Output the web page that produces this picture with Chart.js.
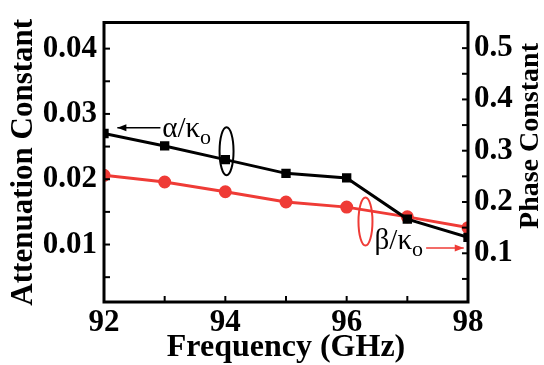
<!DOCTYPE html>
<html>
<head>
<meta charset="utf-8">
<script src="https://cdn.jsdelivr.net/npm/chart.js@4"></script>
<style>
  html, body { margin: 0; padding: 0; background: #fff; }
  #wrap { width: 544px; height: 365px; }
</style>
</head>
<body>
<div id="wrap"><canvas id="chart" width="544" height="365"></canvas></div>
<script>
// Data
const freq = [92, 93, 94, 95, 96, 97, 98];
const attenuation = [0.0270, 0.0251, 0.0230, 0.0209, 0.0202, 0.0139, 0.0111];
const phase = [0.252, 0.239, 0.220, 0.200, 0.190, 0.171, 0.150];

const xTicks = [92, 94, 96, 98];
const xMinor = [93, 95, 97];
const leftTicks = [0.01, 0.02, 0.03, 0.04];
const leftMinor = [0.005, 0.015, 0.025, 0.035];
const rightTicks = [0.1, 0.2, 0.3, 0.4, 0.5];
const rightMinor = [0.05, 0.15, 0.25, 0.35, 0.45];

const SERIF = '"Liberation Serif", "Times New Roman", serif';
const RED = '#ef3b36';

// frame, inward ticks, right-hand title and the little annotations
const framePlugin = {
  id: 'frame',
  afterDatasetsDraw(chart) {
    const { ctx, chartArea: a, scales } = chart;
    ctx.save();
    ctx.strokeStyle = '#000';
    ctx.lineWidth = 3;
    ctx.strokeRect(a.left, a.top, a.right - a.left, a.bottom - a.top);

    ctx.lineWidth = 2;
    function tick(x1, y1, x2, y2) {
      ctx.beginPath(); ctx.moveTo(x1, y1); ctx.lineTo(x2, y2); ctx.stroke();
    }
    xTicks.concat(xMinor).forEach(v => {
      const x = scales.x.getPixelForValue(v);
      tick(x, a.bottom, x, a.bottom - 6);
    });
    leftTicks.concat(leftMinor).forEach(v => {
      const y = scales.yL.getPixelForValue(v);
      tick(a.left, y, a.left + 6, y);
    });
    rightTicks.concat(rightMinor).forEach(v => {
      const y = scales.yR.getPixelForValue(v);
      tick(a.right, y, a.right - 6, y);
    });

    // right axis title reads bottom-to-top like the left one
    ctx.save();
    ctx.translate(531, 136);
    ctx.rotate(-Math.PI / 2);
    ctx.fillStyle = '#000';
    ctx.textAlign = 'center';
    ctx.textBaseline = 'middle';
    ctx.font = 'bold 28px ' + SERIF;
    ctx.fillText('Phase Constant', 0, 0);
    ctx.restore();

    function arrow(x1, y1, x2, y2, color) {
      ctx.strokeStyle = color; ctx.fillStyle = color; ctx.lineWidth = 1.5;
      tick(x1, y1, x2, y2);
      const dir = Math.sign(x2 - x1);
      ctx.beginPath();
      ctx.moveTo(x2, y2);
      ctx.lineTo(x2 - dir * 9, y2 - 3.5);
      ctx.lineTo(x2 - dir * 9, y2 + 3.5);
      ctx.closePath(); ctx.fill();
    }
    function label(x, y, greek) {
      ctx.fillStyle = '#000';
      ctx.textBaseline = 'middle';
      ctx.textAlign = 'left';
      ctx.font = '29px ' + SERIF;
      const t = greek + '/\u03ba';
      ctx.fillText(t, x, y);
      const w = ctx.measureText(t).width;
      ctx.font = '22px ' + SERIF;
      ctx.fillText('o', x + w, y + 9);
    }
    function ellipse(x, y, color) {
      ctx.strokeStyle = color; ctx.lineWidth = 2;
      ctx.beginPath();
      ctx.ellipse(x, y, 7, 24, 0, 0, Math.PI * 2);
      ctx.stroke();
    }
    const X = v => scales.x.getPixelForValue(v);
    const L = v => scales.yL.getPixelForValue(v);
    const R = v => scales.yR.getPixelForValue(v);

    arrow(X(92.93), L(0.0279), X(92.22), L(0.0279), '#000');
    label(X(92.96), L(0.0276), '\u03b1');
    ellipse(X(94.02), L(0.0243), '#000');

    ellipse(X(96.31), R(0.162), RED);
    label(X(96.46), R(0.124), '\u03b2');
    arrow(X(97.31), R(0.1105), X(97.93), R(0.1105), RED);
    ctx.restore();
  }
};

new Chart(document.getElementById('chart'), {
  type: 'line',
  data: {
    datasets: [{
      label: 'attenuation',
      data: freq.map((f, i) => ({ x: f, y: attenuation[i] })),
      yAxisID: 'yL',
      borderColor: '#000',
      backgroundColor: '#000',
      borderWidth: 3,
      pointStyle: 'rect',
      pointRadius: 4.5,
      tension: 0
    }, {
      label: 'phase',
      data: freq.map((f, i) => ({ x: f, y: phase[i] })),
      yAxisID: 'yR',
      borderColor: RED,
      backgroundColor: RED,
      borderWidth: 3,
      pointStyle: 'circle',
      pointRadius: 5,
      tension: 0
    }]
  },
  options: {
    responsive: false,
    animation: false,
    devicePixelRatio: 1,
    layout: { padding: { top: 16, left: 0, right: 0, bottom: 0 } },
    plugins: { legend: { display: false }, tooltip: { enabled: false } },
    scales: {
      x: {
        type: 'linear',
        position: 'bottom',
        min: 92, max: 98,
        grid: { display: false, drawTicks: false },
        border: { display: false },
        afterBuildTicks: s => { s.ticks = xTicks.map(v => ({ value: v })); },
        afterFit: s => { s.height = 63; },
        ticks: {
          color: '#000',
          padding: 5,
          font: { family: SERIF, size: 31, weight: 'bold', lineHeight: 1 }
        },
        title: {
          display: true,
          text: 'Frequency (GHz)',
          color: '#000',
          padding: { top: 0, bottom: 1 },
          font: { family: SERIF, size: 32, weight: 'bold', lineHeight: 1 }
        }
      },
      yL: {
        position: 'left',
        min: 0.0012, max: 0.044,
        grid: { display: false, drawTicks: false },
        border: { display: false },
        afterBuildTicks: s => { s.ticks = leftTicks.map(v => ({ value: v })); },
        afterFit: s => { s.width = 104; },
        ticks: {
          color: '#000',
          padding: 7,
          callback: v => v.toFixed(2),
          font: { family: SERIF, size: 31, weight: 'bold', lineHeight: 1 }
        },
        title: {
          display: true,
          text: 'Attenuation Constant',
          color: '#000',
          padding: { top: 8, bottom: 0 },
          font: { family: SERIF, size: 31, weight: 'bold', lineHeight: 1 }
        }
      },
      yR: {
        position: 'right',
        min: 0.005, max: 0.55,
        grid: { display: false, drawTicks: false },
        border: { display: false },
        afterBuildTicks: s => { s.ticks = rightTicks.map(v => ({ value: v })); },
        afterFit: s => { s.width = 76; },
        ticks: {
          color: '#000',
          padding: 6,
          callback: v => v.toFixed(1),
          font: { family: SERIF, size: 31, weight: 'bold', lineHeight: 1 }
        },
        title: { display: false }
      }
    }
  },
  plugins: [framePlugin]
});
</script>
</body>
</html>
